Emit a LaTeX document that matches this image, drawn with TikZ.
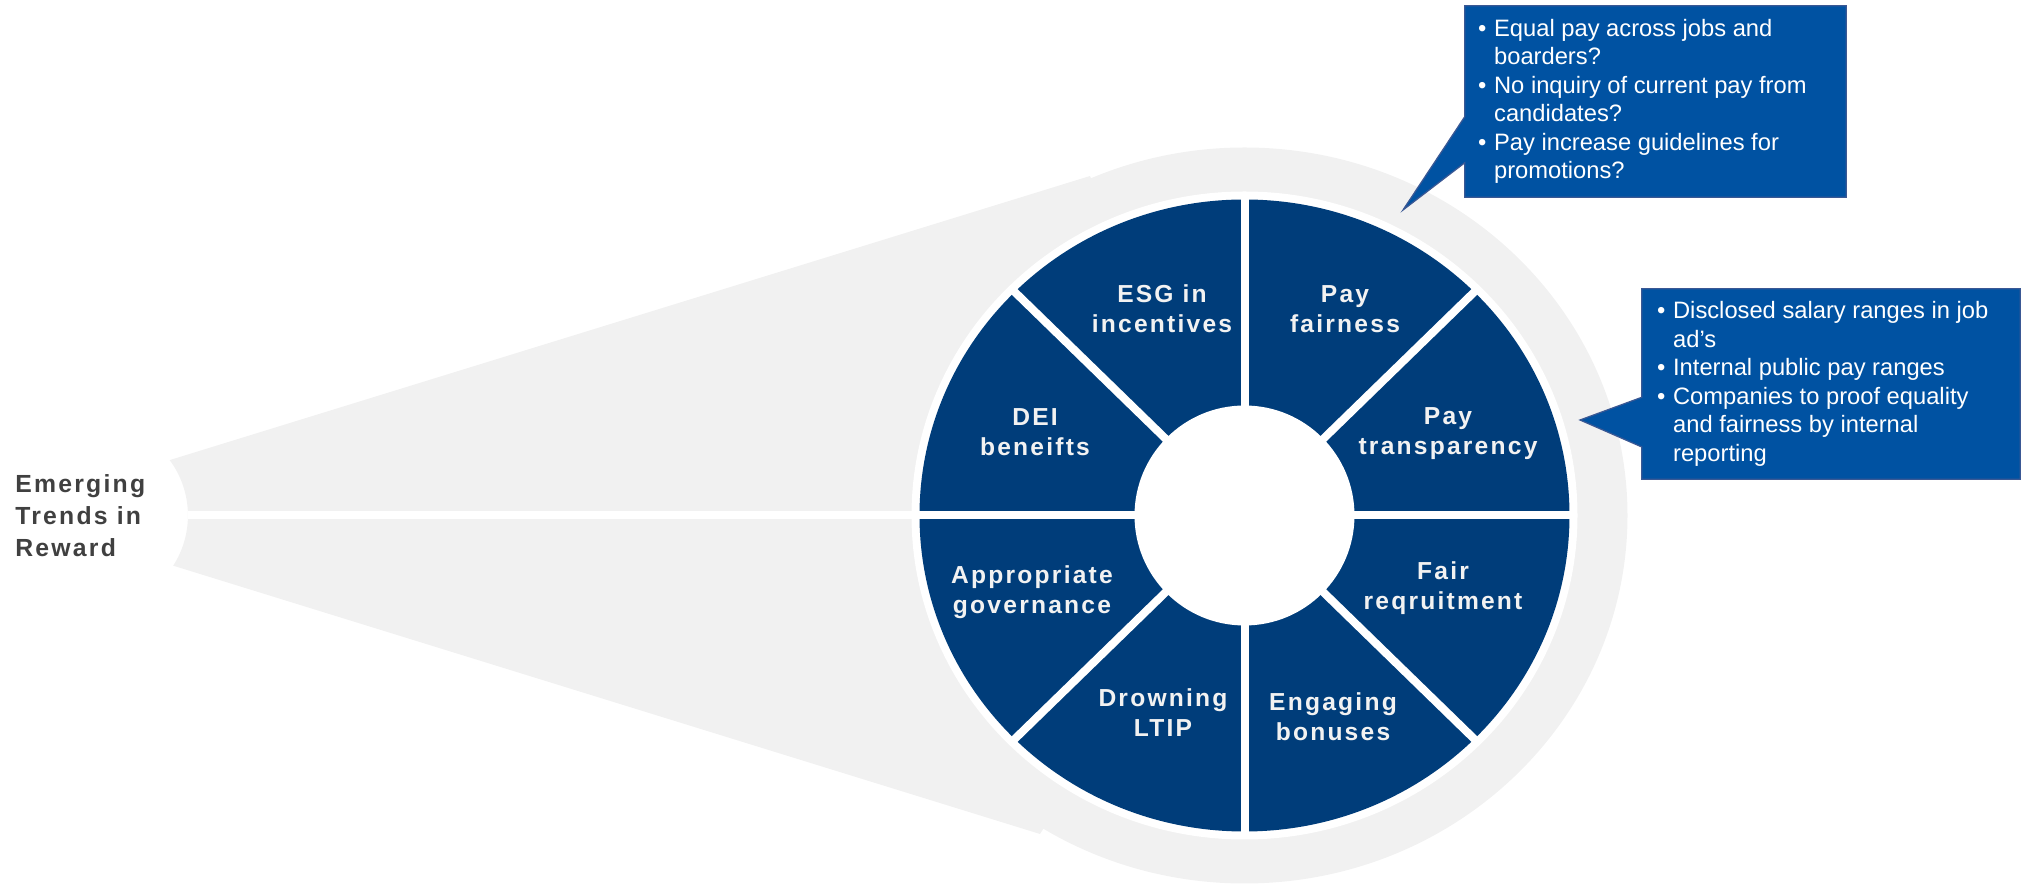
\documentclass[tikz,border=0pt]{standalone}
\usepackage{fontspec}
\setmainfont{Liberation Sans}
\newfontfamily\spacedfont[LetterSpace=9]{Liberation Sans}
\usepackage{tikz}
\usetikzlibrary{calc}

\definecolor{wheelblue}{RGB}{0,61,122}
\definecolor{noteblue}{RGB}{0,82,162}
\definecolor{noteedge}{RGB}{58,88,148}
\definecolor{ringgrey}{RGB}{241,241,241}
\definecolor{titlegrey}{RGB}{64,64,64}

\newcommand{\bul}{\makebox[0.68em][l]{\textbullet}}
\newcommand{\cont}{\hspace*{0.68em}}

\begin{document}
\begin{tikzpicture}[x=0.2mm, y=0.2mm,
    trend/.style={text=white!95!black, align=center,
      font=\spacedfont\bfseries\fontsize{14}{17}\selectfont},
    notebox/.style={inner sep=0},
    note/.style={fill=noteblue, draw=noteedge, line width=0.25mm},
    notetext/.style={text=white, align=left, inner sep=0, anchor=west,
      font=\fontsize{13.5}{16.2}\selectfont},
    gap/.style={white, line width=1.6mm}]

  \useasboundingbox (0,0) rectangle (2021,886);

  \coordinate (c) at (1244.5,370.5);
  \coordinate (mouth) at (188,370.5);

  % funnel and grey ring behind the wheel
  \fill[ringgrey] (170,426) -- (1090,710) -- (c) -- (1040,52) -- (173.2,320.3)
    arc[start angle=-32.7, end angle=36.5, radius=93] -- cycle;
  \fill[ringgrey] (c) ellipse[x radius=383, y radius=368];

  % the wheel
  \fill[white] (c) ellipse[x radius=333, y radius=324];
  \fill[wheelblue] (c) ellipse[x radius=325, y radius=316];
  \foreach \a in {0,45,90,135}
    \draw[gap] ($(c)+(\a:330 and 321)$) -- ($(c)+(\a+180:330 and 321)$);
  \draw[gap] (c) -- (mouth);
  \fill[white] (c) circle[radius=110];

  \node[trend] (esg) at (1162,577) {ESG in\\incentives};
  \node[trend] (fairness) at (1345,577) {Pay\\fairness};
  \node[trend] (transparency) at (1448,452) {Pay\\transparency};
  \node[trend] (recruit) at (1443,298) {Fair\\reqruitment};
  \node[trend] (bonuses) at (1333,169) {Engaging\\bonuses};
  \node[trend] (ltip) at (1163,173) {Drowning\\LTIP};
  \node[trend] (governance) at (1032,294) {Appropriate\\governance};
  \node[trend] (dei) at (1035,454) {DEI\\beneifts};

  \node[anchor=west, align=left, inner sep=0, text=titlegrey,
    font=\spacedfont\bfseries\fontsize{14.1}{18.1}\selectfont] (title) at (15,370.5)
    {Emerging\\Trends in\\Reward};

  % callouts
  \node[notebox, minimum width=76.2mm, minimum height=38.2mm] (fairbox) at (1655.5,784.5) {};
  \coordinate (fairtip) at (1403,676);
  \draw[note] (fairbox.north west) -- (fairbox.north east) -- (fairbox.south east)
    -- (fairbox.south west) -- ($(fairbox.north west)!0.82!(fairbox.south west)$)
    -- (fairtip) -- ($(fairbox.north west)!0.58!(fairbox.south west)$) -- cycle;
  \node[notetext] (fairtext) at ([xshift=2.6mm]fairbox.west)
    {\bul Equal pay across jobs and\\ \cont boarders?\\
     \bul No inquiry of current pay from\\ \cont candidates?\\
     \bul Pay increase guidelines for\\ \cont promotions?};

  \node[notebox, minimum width=75.6mm, minimum height=38mm] (transbox) at (1831,502) {};
  \coordinate (transtip) at (1580,466);
  \draw[note] (transbox.north west) -- (transbox.north east) -- (transbox.south east)
    -- (transbox.south west) -- ($(transbox.north west)!0.83!(transbox.south west)$)
    -- (transtip) -- ($(transbox.north west)!0.57!(transbox.south west)$) -- cycle;
  \node[notetext] (transtext) at ([xshift=3mm]transbox.west)
    {\bul Disclosed salary ranges in job\\ \cont ad’s\\
     \bul Internal public pay ranges\\
     \bul Companies to proof equality\\ \cont and fairness by internal\\ \cont reporting};
\end{tikzpicture}
\end{document}
